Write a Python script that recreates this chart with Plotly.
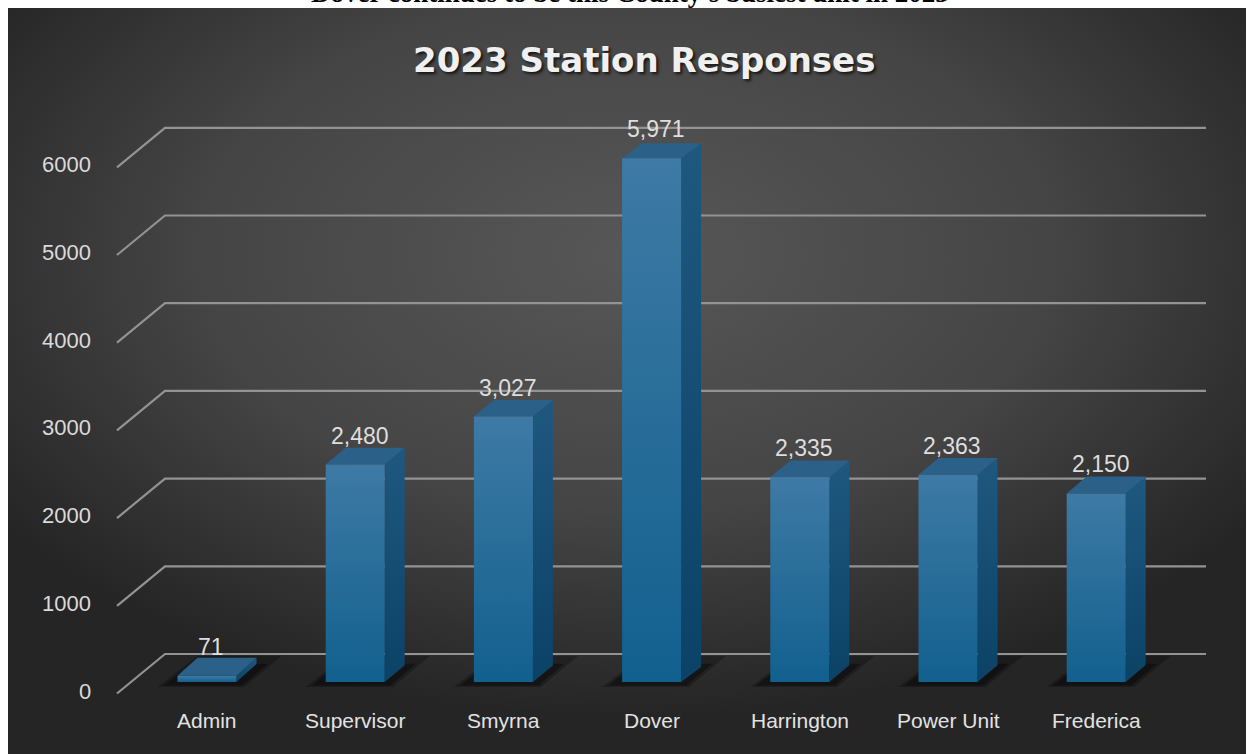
import base64
import plotly.graph_objects as go

# data
stations = ['Admin', 'Supervisor', 'Smyrna', 'Dover', 'Harrington', 'Power Unit', 'Frederica']
responses = [71, 2480, 3027, 5971, 2335, 2363, 2150]
y_ticks = [0, 1000, 2000, 3000, 4000, 5000, 6000]
chart_title = '2023 Station Responses'
heading = "Dover continues to be this County's busiest unit in 2023"

W, H = 1253, 754
# pixel scale of the axes (plot area fills the whole page)
PX_X = 148.2      # px per category step
PX_Y = 0.0877     # px per response
X0_PX, Y0_PX = 207, 682   # pixel of (Admin, 0) on the bar front plane


def dx(px):
    return px / PX_X


def dy(px):
    return px / PX_Y


bar_w = dx(59)
depth_x = dx(20)

fig = go.Figure()

# 3D gridlines (below all traces): short diagonal at the front, then the back wall line
for v in y_ticks:
    fig.add_shape(type='path', xref='x', yref='y', layer='below',
                  path='M %f,%f L %f,%f L %f,%f' % (dx(117 - X0_PX), v - dy(11.5),
                                                     dx(165 - X0_PX), v + dy(28),
                                                     dx(1206 - X0_PX), v + dy(28)),
                  line=dict(color='#939393', width=2.2))

# soft shadows on the floor
for spread, alpha in [(1.0, 0.25), (0.7, 0.35)]:
    sx, sy = [], []
    for i, v in enumerate(responses):
        left = i - bar_w / 2
        right = i + bar_w / 2
        sx += [left - dx(20 * spread), right + dx(8 * spread),
               right + dx(45 * spread), left + dx(20 * spread), left - dx(20 * spread), None]
        sy += [-dy(5 * spread), -dy(5 * spread), dy(26 * spread), dy(26 * spread), -dy(5 * spread), None]
    fig.add_trace(go.Scatter(x=sx, y=sy, mode='lines', fill='toself',
                             fillcolor='rgba(0,0,0,%s)' % alpha, line=dict(width=0),
                             hoverinfo='skip', showlegend=False))

for i, v in enumerate(responses):
    left = i - bar_w / 2
    right = i + bar_w / 2
    # perspective: top face a bit deeper for lower bars
    depth_y = dy(18 - 3 * v / 6000)
    # right side face
    fig.add_trace(go.Scatter(
        x=[right, right + depth_x, right + depth_x, right, right],
        y=[0, depth_y, v + depth_y, v, 0],
        mode='lines', fill='toself', line=dict(width=0),
        fillgradient=dict(type='vertical', colorscale=[[0, '#0b4266'], [1, '#1f587f']]),
        hoverinfo='skip', showlegend=False))
    # top face
    fig.add_trace(go.Scatter(
        x=[left, right, right + depth_x, left + depth_x, left],
        y=[v, v, v + depth_y, v + depth_y, v],
        mode='lines', fill='toself', line=dict(width=0),
        fillcolor='#2b6189', hoverinfo='skip', showlegend=False))
    # front face
    fig.add_trace(go.Scatter(
        x=[left, right, right, left, left],
        y=[0, 0, v, v, 0],
        mode='lines', fill='toself', line=dict(width=0),
        fillgradient=dict(type='vertical', colorscale=[[0, '#12608e'], [1, '#3e7aa5']]),
        name=stations[i], hovertemplate='%{fullData.name}: ' + f'{v:,}' + '<extra></extra>',
        showlegend=False))
    # data label
    fig.add_annotation(x=i + 0.03, y=v, yshift=29, text=f'{v:,}', showarrow=False,
                       font=dict(family='Liberation Sans', size=23, color='#dedede'))
    # category label
    fig.add_annotation(x=i, y=0, yshift=-38, text=stations[i], showarrow=False,
                       font=dict(family='Liberation Sans', size=21, color='#e2e2e2'))

# value axis labels
for v in y_ticks:
    fig.add_annotation(x=dx(117 - X0_PX), y=v, xshift=-24, yshift=-9, xanchor='right',
                       text=str(v), showarrow=False,
                       font=dict(family='Liberation Sans', size=22, color='#dadada'))

# dark radial background
svg = ("<svg xmlns='http://www.w3.org/2000/svg' width='1238' height='746'>"
       "<defs><radialGradient id='g' cx='0.5' cy='0.33' r='0.62'>"
       "<stop offset='0' stop-color='#575757'/><stop offset='0.55' stop-color='#454545'/>"
       "<stop offset='1' stop-color='#252525'/></radialGradient></defs>"
       "<rect width='1238' height='746' fill='url(#g)'/></svg>")
bg_src = 'data:image/svg+xml;base64,' + base64.b64encode(svg.encode()).decode()
fig.add_layout_image(dict(source=bg_src, xref='paper', yref='paper',
                          x=8 / W, y=1 - 8 / H, sizex=(1246 - 8) / W, sizey=(H - 8) / H,
                          xanchor='left', yanchor='top', sizing='stretch', layer='below'))

fig.add_annotation(xref='paper', yref='paper', x=630 / W, y=1 - 10 / H, yanchor='bottom',
                   text=heading, showarrow=False,
                   font=dict(family='Liberation Serif', size=27, color='black', weight='bold'))
fig.add_annotation(xref='paper', yref='paper', x=644 / W, y=1 - 60 / H, yanchor='middle',
                   text=chart_title, showarrow=False,
                   font=dict(family='DejaVu Sans', size=34, color='#f0f0f0', weight='bold',
                             shadow='2px 2px 3px #151515'))

fig.update_xaxes(range=[-X0_PX / PX_X, (W - X0_PX) / PX_X], visible=False, fixedrange=True)
fig.update_yaxes(range=[-(H - Y0_PX) / PX_Y, Y0_PX / PX_Y], visible=False, fixedrange=True)
fig.update_layout(width=W, height=H, margin=dict(l=0, r=0, t=0, b=0),
                  paper_bgcolor='white', plot_bgcolor='rgba(0,0,0,0)',
                  showlegend=False)

# drop the browser's default body margin so the figure sits at the page corner
fig.write_html('out.html', config={'displayModeBar': False},
               post_script="document.body.style.margin='0';document.body.style.overflow='hidden';")
